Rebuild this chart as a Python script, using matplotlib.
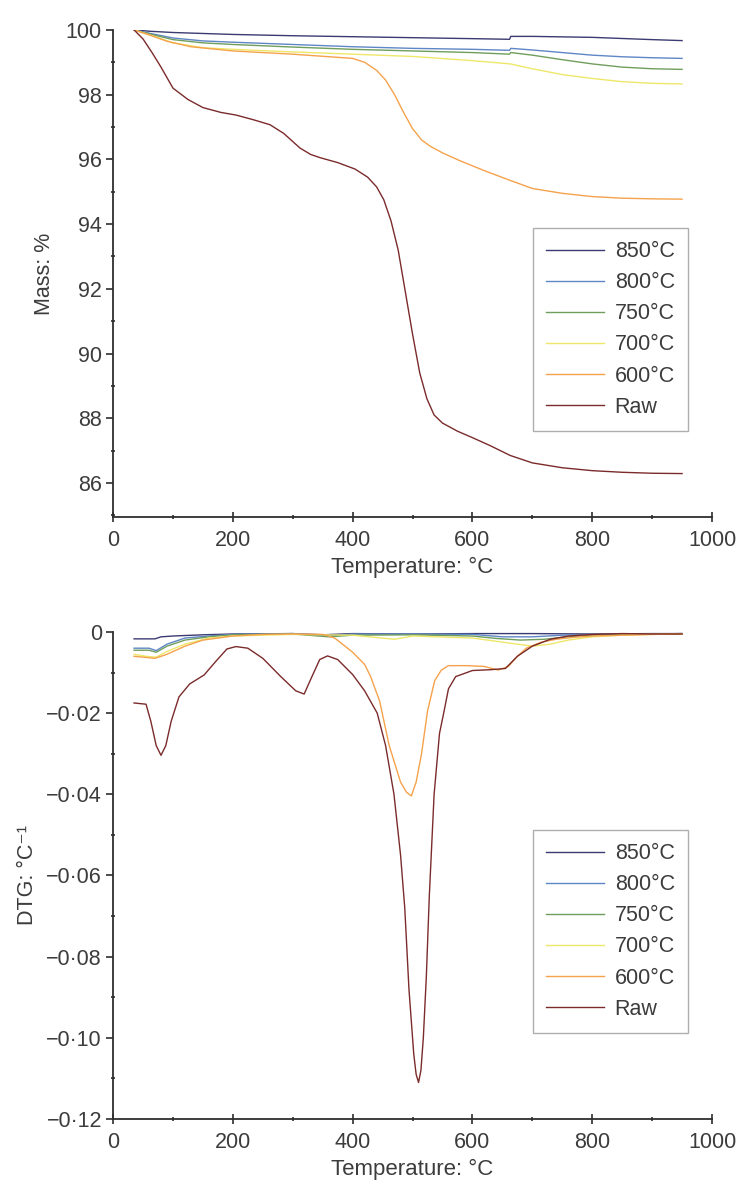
import matplotlib
matplotlib.use("Agg")
import matplotlib.pyplot as plt
from matplotlib.ticker import MultipleLocator

plt.rcParams['font.family'] = ['Liberation Sans', 'DejaVu Sans']

labels = ['850°C', '800°C', '750°C', '700°C', '600°C', 'Raw']
colors = ['#3b3b73', '#5f86c6', '#6f9e5c', '#eee76a', '#f5a24c', '#7b2b2b']

# TG curves (temperature °C, mass %)
t_850 = [35, 60, 100, 200, 300, 400, 500, 600, 662, 664, 700, 800, 900, 950]
m_850 = [100, 99.96, 99.92, 99.86, 99.82, 99.79, 99.76, 99.73, 99.71, 99.8, 99.8, 99.77, 99.7, 99.67]
t_800 = [35, 60, 100, 150, 200, 300, 400, 500, 600, 662, 664, 700, 750, 800, 850, 900, 950]
m_800 = [100, 99.9, 99.75, 99.66, 99.62, 99.55, 99.48, 99.43, 99.4, 99.37, 99.43, 99.38, 99.3, 99.22, 99.17, 99.14, 99.12]
t_750 = [35, 60, 100, 150, 200, 300, 400, 500, 600, 662, 664, 700, 750, 800, 850, 900, 950]
m_750 = [100, 99.88, 99.7, 99.6, 99.55, 99.47, 99.4, 99.35, 99.3, 99.25, 99.3, 99.22, 99.08, 98.95, 98.85, 98.8, 98.78]
t_700 = [35, 60, 100, 150, 200, 300, 400, 500, 600, 663, 700, 750, 800, 850, 900, 950]
m_700 = [100, 99.85, 99.6, 99.45, 99.4, 99.32, 99.25, 99.18, 99.05, 98.95, 98.8, 98.62, 98.5, 98.4, 98.35, 98.33]
t_600 = [35, 60, 90, 130, 200, 300, 400, 420, 440, 455, 470, 485, 500, 515, 530, 550, 580, 620,
         663, 700, 750, 800, 850, 900, 950]
m_600 = [100, 99.85, 99.65, 99.48, 99.35, 99.25, 99.12, 99.0, 98.75, 98.45, 98.0, 97.45, 96.95, 96.6,
         96.4, 96.2, 95.95, 95.65, 95.35, 95.1, 94.95, 94.85, 94.8, 94.78, 94.77]
t_raw = [35, 50, 65, 80, 100, 125, 150, 180, 205, 235, 262, 285, 312, 330, 346, 375, 404, 425, 440,
         452, 464, 476, 488, 500, 512, 524, 536, 550, 575, 600, 630, 663, 700, 750, 800, 850, 900, 950]
m_raw = [100, 99.72, 99.3, 98.85, 98.2, 97.85, 97.6, 97.45, 97.37, 97.22, 97.07, 96.8, 96.35, 96.15,
         96.05, 95.9, 95.7, 95.45, 95.15, 94.75, 94.1, 93.2, 91.9, 90.6, 89.4, 88.6, 88.1, 87.85, 87.6,
         87.4, 87.15, 86.85, 86.62, 86.47, 86.38, 86.33, 86.3, 86.29]

# DTG curves (temperature °C, dm/dT)
d_t_850 = [35, 70, 80, 100, 150, 200, 300, 350, 400, 500, 600, 700, 800, 900, 950]
d_850 = [-0.0017, -0.0017, -0.0012, -0.001, -0.0007, -0.0005, -0.0004, -0.0007, -0.0004, -0.0005,
         -0.0004, -0.0004, -0.0005, -0.0004, -0.0004]
d_t_800 = [35, 60, 72, 90, 120, 160, 200, 300, 360, 400, 500, 600, 650, 700, 750, 800, 900, 950]
d_800 = [-0.004, -0.004, -0.0046, -0.003, -0.0015, -0.001, -0.0006, -0.0004, -0.001, -0.0005, -0.0005,
         -0.0006, -0.0012, -0.0012, -0.0008, -0.0006, -0.0005, -0.0004]
d_t_750 = [35, 60, 72, 90, 120, 160, 200, 300, 360, 400, 500, 600, 640, 680, 720, 760, 800, 900, 950]
d_750 = [-0.0045, -0.0045, -0.005, -0.0035, -0.002, -0.0012, -0.0007, -0.0005, -0.0012, -0.0008,
         -0.0007, -0.001, -0.0016, -0.002, -0.0018, -0.0012, -0.0008, -0.0005, -0.0004]
d_t_700 = [35, 55, 72, 90, 120, 160, 200, 300, 400, 470, 500, 600, 650, 700, 730, 760, 800, 850, 900, 950]
d_700 = [-0.0055, -0.006, -0.0062, -0.0048, -0.003, -0.0015, -0.001, -0.0006, -0.0008, -0.0018,
         -0.001, -0.0015, -0.0025, -0.0035, -0.003, -0.002, -0.0012, -0.0008, -0.0006, -0.0005]
d_t_600 = [35, 50, 70, 90, 120, 150, 200, 250, 300, 350, 370, 400, 420, 430, 445, 461, 480, 490, 498,
           506, 515, 525, 537, 548, 560, 590, 620, 643, 660, 675, 690, 715, 740, 770, 800, 850, 900, 950]
d_600 = [-0.006, -0.0062, -0.0065, -0.0055, -0.0035, -0.002, -0.001, -0.0006, -0.0005, -0.0006,
         -0.0015, -0.005, -0.008, -0.011, -0.017, -0.028, -0.037, -0.0395, -0.0404, -0.037, -0.03,
         -0.0195, -0.012, -0.0094, -0.0083, -0.0083, -0.0085, -0.0094, -0.0085, -0.006, -0.004,
         -0.0025, -0.0018, -0.0013, -0.001, -0.0008, -0.0006, -0.0005]
d_t_raw = [35, 55, 63, 72, 80, 88, 97, 110, 128, 152, 170, 190, 205, 225, 250, 280, 305, 319, 332,
           345, 358, 375, 400, 420, 441, 455, 469, 480, 487, 494, 502, 506, 510, 514, 518, 523, 528,
           536, 545, 552, 560, 572, 600, 630, 655, 675, 700, 730, 760, 800, 850, 900, 950]
d_raw = [-0.0175, -0.0178, -0.022, -0.028, -0.0304, -0.028, -0.022, -0.016, -0.0128, -0.0106,
         -0.0075, -0.0042, -0.0036, -0.004, -0.0065, -0.011, -0.0145, -0.0153, -0.011, -0.0068,
         -0.0059, -0.0068, -0.0105, -0.0145, -0.02, -0.028, -0.04, -0.055, -0.068, -0.088, -0.104,
         -0.109, -0.111, -0.108, -0.1, -0.085, -0.065, -0.04, -0.025, -0.02, -0.014, -0.011, -0.0095,
         -0.0093, -0.009, -0.006, -0.0035, -0.0018, -0.001, -0.0006, -0.0004, -0.0005, -0.0005]

mass_ticks = [86, 88, 90, 92, 94, 96, 98, 100]
dtg_ticks = [0, -0.02, -0.04, -0.06, -0.08, -0.10, -0.12]
dtg_tick_labels = ['0', '−0·02', '−0·04', '−0·06', '−0·08', '−0·10', '−0·12']
temp_ticks = [0, 200, 400, 600, 800, 1000]

txt = '#3c3c3c'
fs = 15.5
fig = plt.figure(figsize=(7.44, 11.87), dpi=100)
ax1 = fig.add_axes([0.152, 0.5645, 0.805, 0.4103])
ax2 = fig.add_axes([0.152, 0.0573, 0.805, 0.4103])

tg = [(t_850, m_850), (t_800, m_800), (t_750, m_750), (t_700, m_700), (t_600, m_600), (t_raw, m_raw)]
dtg = [(d_t_850, d_850), (d_t_800, d_800), (d_t_750, d_750), (d_t_700, d_700), (d_t_600, d_600), (d_t_raw, d_raw)]

for (t, m), lab, c in zip(tg, labels, colors):
    ax1.plot(t, m, color=c, lw=1.0, label=lab)
for (t, d), lab, c in zip(dtg, labels, colors):
    ax2.plot(t, d, color=c, lw=1.0, label=lab)

ax1.set_ylim(84.95, 100)
ax1.set_yticks(mass_ticks)
ax1.yaxis.set_minor_locator(MultipleLocator(1))
ax1.set_ylabel('Mass: %', fontsize=fs, color=txt, labelpad=8)

ax2.set_ylim(-0.12, 0)
ax2.set_yticks(dtg_ticks)
ax2.set_yticklabels(dtg_tick_labels)
ax2.yaxis.set_minor_locator(MultipleLocator(0.01))
ax2.set_ylabel('DTG: °C⁻¹', fontsize=fs, color=txt, labelpad=6)

for ax in (ax1, ax2):
    ax.set_xlim(0, 1000)
    ax.set_xticks(temp_ticks)
    ax.xaxis.set_minor_locator(MultipleLocator(100))
    ax.set_xlabel('Temperature: °C', fontsize=16, color=txt, labelpad=4)
    for s in ('top', 'right'):
        ax.spines[s].set_visible(False)
    for s in ('left', 'bottom'):
        ax.spines[s].set_linewidth(1.3)
        ax.spines[s].set_color('#2e2e2e')
    ax.tick_params(axis='both', which='major', labelsize=fs, labelcolor=txt, color='#2e2e2e', width=1.2)
    ax.tick_params(axis='y', which='major', direction='out', length=5, pad=3)
    ax.tick_params(axis='x', which='major', direction='inout', length=7, pad=6)
    ax.tick_params(axis='both', which='minor', direction='inout', length=3, width=1.2, color='#2e2e2e')
    leg = ax.legend(loc='upper left', bbox_to_anchor=(0.701, 0.593), borderaxespad=0,
                    fontsize=fs, frameon=True, fancybox=False, handlelength=2.7,
                    handletextpad=0.5, labelspacing=0.47, borderpad=0.6)
    leg.get_frame().set_edgecolor('#9a9a9a')
    leg.get_frame().set_linewidth(1.0)
    for t in leg.get_texts():
        t.set_color(txt)

fig.savefig('out.png', dpi=100)
